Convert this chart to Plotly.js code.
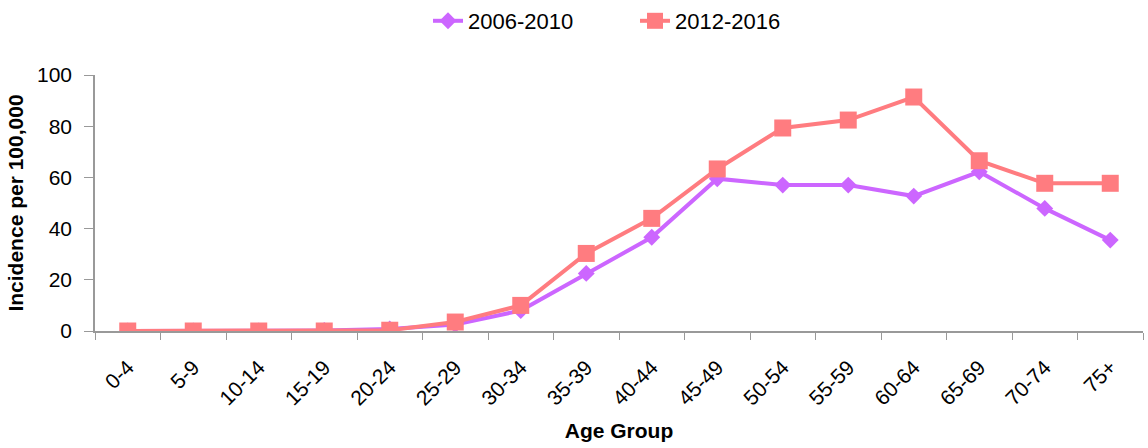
<!DOCTYPE html>
<html>
<head>
<meta charset="utf-8">
<script src="https://cdn.plot.ly/plotly-3.0.1.min.js"></script>
<style>html,body{margin:0;padding:0;background:#fff;}#chart{width:1148px;height:448px;}</style>
</head>
<body>
<div id="chart"></div>
<script>
const ageGroups = ["0-4","5-9","10-14","15-19","20-24","25-29","30-34","35-39","40-44","45-49","50-54","55-59","60-64","65-69","70-74","75+"];
const series2006 = [0, 0, 0, 0.2, 0.8, 2.5, 8, 22.5, 36.6, 59.5, 57, 57, 52.7, 62.2, 47.9, 35.5];
const series2012 = [0, 0, 0, 0, 0.3, 3.5, 10, 30.3, 44, 63.3, 79.3, 82.4, 91.4, 66.5, 57.7, 57.7];
const yTicks = [0, 20, 40, 60, 80, 100];

const font = "Liberation Sans, Arial, sans-serif";
const traces = [
  {x: ageGroups, y: series2006, name: "2006-2010", type: "scatter", mode: "lines+markers",
   line: {color: "#CC66FF", width: 4}, marker: {symbol: "diamond", size: 13, color: "#CC66FF"}},
  {x: ageGroups, y: series2012, name: "2012-2016", type: "scatter", mode: "lines+markers",
   line: {color: "#FF7C80", width: 4}, marker: {symbol: "square", size: 17, color: "#FF7C80"}}
];
const layout = {
  width: 1148, height: 448,
  margin: {l: 95, r: 5, t: 75, b: 117},
  paper_bgcolor: "#fff", plot_bgcolor: "#fff",
  font: {family: font, color: "#000", size: 20},
  showlegend: true,
  legend: {orientation: "h", xref: "container", yref: "container", x: 428/1148, xanchor: "left", y: 1, yanchor: "top",
           font: {family: font, size: 22}, entrywidth: 162, entrywidthmode: "pixels", tracegroupgap: 0},
  xaxis: {type: "category", range: [-0.5, 15.5], tickson: "boundaries", ticks: "outside", ticklen: 7, tickcolor: "#999",
          showline: true, linecolor: "#999", linewidth: 1.5, showgrid: false, zeroline: false,
          tickangle: -45, tickfont: {size: 21}, ticklabelstandoff: 14,
          title: {text: "<b>Age Group</b>", font: {size: 21}, standoff: 15}},
  yaxis: {range: [0, 100], tickvals: yTicks, ticks: "outside", ticklen: 9, tickcolor: "#999",
          showline: true, linecolor: "#999", linewidth: 1.5, showgrid: false, zeroline: false,
          tickfont: {size: 21}, ticklabelstandoff: 8,
          title: {text: "<b>Incidence per 100,000</b>", font: {size: 21}, standoff: 8}}
};
Plotly.newPlot("chart", traces, layout, {displayModeBar: false});
</script>
</body>
</html>
